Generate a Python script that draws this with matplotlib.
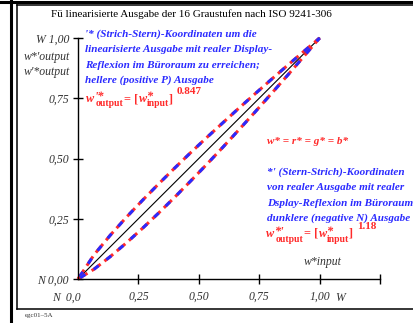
import matplotlib
matplotlib.use('Agg')
import matplotlib.pyplot as plt
from matplotlib.lines import Line2D

plt.rcParams['font.family'] = ['Liberation Serif', 'DejaVu Serif']
plt.rcParams['lines.scale_dashes'] = False

# 16 gray steps, input and the two output curves
w_input = [0.0, 0.0667, 0.1333, 0.2, 0.2667, 0.3333, 0.4, 0.4667,
           0.5333, 0.6, 0.6667, 0.7333, 0.8, 0.8667, 0.9333, 1.0]
w_out_p = [0.0, 0.1008, 0.1814, 0.2559, 0.3263, 0.3942, 0.4602, 0.5247,
           0.5874, 0.6486, 0.7096, 0.7688, 0.8278, 0.8860, 0.9433, 1.0]
w_out_n = [0.0, 0.0410, 0.0927, 0.1497, 0.2101, 0.2734, 0.3391, 0.4070,
           0.4761, 0.5472, 0.6200, 0.6935, 0.7687, 0.8445, 0.9218, 1.0]
diag = [0.0, 1.0]

xticks = [0.25, 0.5, 0.75, 1.0, 1.25]
xlabels = ['0,25', '0,50', '0,75', '1,00', '']
yticks = [0.0, 0.25, 0.5, 0.75, 1.0]
ylabels = ['N 0,00', '0,25', '0,50', '0,75', 'W 1,00']

W, H = 413, 323
RED = '#ff2a2a'
BLUE = '#2a2aff'
GRAY = '#333333'

fig = plt.figure(figsize=(W / 100, H / 100), dpi=100)
renderer = fig.canvas.get_renderer()


def fx(x):
    return x / W


def fy(y):
    return 1 - y / H


ax = fig.add_axes([fx(78), fy(279), (380 - 78) / W, (279 - 38) / H])
ax.set_xlim(0, 1.25)
ax.set_ylim(0, 1.0)
for s in ['top', 'right']:
    ax.spines[s].set_visible(False)
for s in ['left', 'bottom']:
    ax.spines[s].set_linewidth(1.0)
ax.set_facecolor('none')

ax.set_xticks(xticks)
ax.set_xticklabels(xlabels)
ax.set_yticks(yticks)
ax.set_yticklabels(ylabels)
ax.tick_params(direction='inout', length=7, width=1.0, color='black')
ax.tick_params(axis='x', pad=5)
ax.tick_params(axis='y', pad=3)
for lab in ax.get_xticklabels() + ax.get_yticklabels():
    lab.set_fontstyle('italic')
    lab.set_fontsize(8.5)
    lab.set_color(GRAY)

# origin label and unit letter on the x axis
ax.text(-0.05, -0.079, 'N  0,0', ha='center', va='center', fontsize=8.5,
        style='italic', color=GRAY, clip_on=False)
ax.text(1.085, -0.079, 'W', ha='center', va='center', fontsize=8.5,
        style='italic', color=GRAY, clip_on=False)

ax.plot(diag, diag, color='black', lw=0.8, clip_on=False)
for yv in [w_out_p, w_out_n]:
    ax.plot(w_input, yv, color=RED, lw=2.2, linestyle=(0, (8.0, 3.5)),
            clip_on=False)
    ax.plot(w_input, yv, color=BLUE, lw=2.2, linestyle=(9.7, (4.4, 7.1)),
            clip_on=False)

# frame
fig.add_artist(Line2D([fx(10.5), fx(10.5)], [0, 1], color='black', lw=2.2))
fig.add_artist(Line2D([0, 1], [fy(1.5), fy(1.5)], color='black', lw=2.2))
fig.add_artist(Line2D([fx(17), fx(17)], [fy(5), fy(309)], color='black', lw=1.1))
fig.add_artist(Line2D([fx(17), 1], [fy(5), fy(5)], color='black', lw=1.1))
fig.add_artist(Line2D([fx(17), 1], [fy(309), fy(309)], color='black', lw=1.1))

fig.text(fx(191), fy(14), 'Fü linearisierte Ausgabe der 16 Graustufen nach ISO 9241-306',
         ha='center', va='center', fontsize=8)
fig.text(fx(25), fy(316), 'egc01\u20135A', ha='left', va='center', fontsize=5,
         color=GRAY)

fig.text(fx(70), fy(57), "w*'output", ha='right', va='center', fontsize=8.5,
         style='italic', color=GRAY)
fig.text(fx(70), fy(72), "w'*output", ha='right', va='center', fontsize=8.5,
         style='italic', color=GRAY)
fig.text(fx(323), fy(262), 'w*input', ha='center', va='center', fontsize=8.5,
         style='italic', color=GRAY)

blue1 = ["'* (Strich-Stern)-Koordinaten um die",
         'linearisierte Ausgabe mit realer Display-',
         'Reflexion im Büroraum zu erreichen;',
         'hellere (positive P) Ausgabe']
blue2 = ["*' (Stern-Strich)-Koordinaten",
         'von realer Ausgabe mit realer',
         'Dsplay-Reflexion im Büroraum',
         'dunklere (negative N) Ausgabe']
for i, t in enumerate(blue1):
    fig.text(fx(85), fy(36.5 + 15.5 * i), t, ha='left', va='baseline',
             fontsize=8, style='italic', weight='bold', color=BLUE)
for i, t in enumerate(blue2):
    fig.text(fx(267), fy(174.5 + 15.5 * i), t, ha='left', va='baseline',
             fontsize=8, style='italic', weight='bold', color=BLUE)

fig.text(fx(267), fy(144), 'w* = r* = g* = b*', ha='left', va='baseline',
         fontsize=8, style='italic', weight='bold', color=RED)


def put(x, y, txt, size, italic):
    t = fig.text(fx(x), fy(y), txt, ha='left', va='baseline', fontsize=size,
                 weight='bold', color=RED, style='italic' if italic else 'normal')
    return x + t.get_window_extent(renderer).width


def formula(x0, y0, marks, expo, main=8.8, small=7):
    x = put(x0, y0, 'w', main, True)
    put(x, y0 - 2, marks, main, True)
    x = put(x + 1, y0 + 4.5, 'output', small, False)
    x = put(x + 1.5, y0, '= [', main, False)
    x = put(x, y0, 'w', main, True)
    put(x - 1, y0 - 2, '*', main, True)
    x = put(x, y0 + 4.5, 'input', small, False)
    x = put(x, y0, ']', main, False)
    put(x + 4, y0 - 8, expo, 8, False)


formula(86, 102, "'*", '0.847')
formula(266, 237, "*'", '1.18')

fig.savefig('out.png', dpi=100)
